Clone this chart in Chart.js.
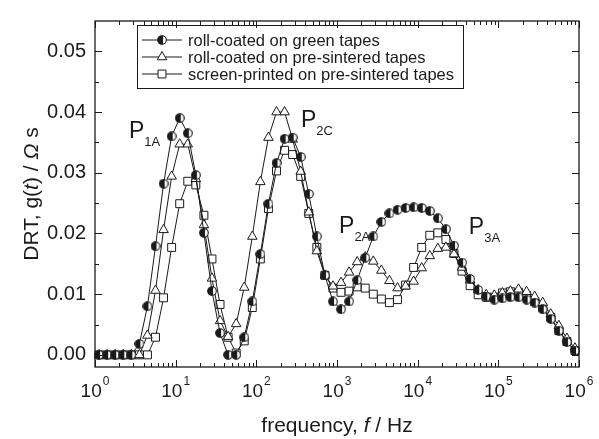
<!DOCTYPE html>
<html>
<head>
<meta charset="utf-8">
<script src="https://cdn.jsdelivr.net/npm/chart.js@4.4.0/dist/chart.umd.min.js"></script>
<style>
  body { margin: 0; background: #fff; }
  #wrap { width: 599px; height: 439px; }
</style>
</head>
<body>
<div id="wrap"><canvas id="drtCanvas" width="599" height="439"></canvas></div>
<script>
// log10 of the frequency of every DRT point (10 per decade)
const logFreq = [
  0.05, 0.15, 0.25, 0.35, 0.45, 0.55, 0.65, 0.75, 0.85, 0.95,
  1.05, 1.15, 1.25, 1.35, 1.45, 1.55, 1.65, 1.75, 1.85, 1.95,
  2.05, 2.15, 2.25, 2.35, 2.45, 2.55, 2.65, 2.75, 2.85, 2.95,
  3.05, 3.15, 3.25, 3.35, 3.45, 3.55, 3.65, 3.75, 3.85, 3.95,
  4.05, 4.15, 4.25, 4.35, 4.45, 4.55, 4.65, 4.75, 4.85, 4.95,
  5.05, 5.15, 5.25, 5.35, 5.45, 5.55, 5.65, 5.75, 5.85, 5.95
];

const greenTapes = [
  0, 0, 0, 0, 0, 0.0018, 0.0080, 0.0179, 0.0282, 0.0360,
  0.0390, 0.0365, 0.0296, 0.0201, 0.0105, 0.0036, 0.0000, 0.0000, 0.0029, 0.0088,
  0.0166, 0.0249, 0.0316, 0.0356, 0.0358, 0.0326, 0.0265, 0.0195, 0.0131, 0.0088,
  0.0075, 0.0088, 0.0123, 0.0160, 0.0195, 0.0219, 0.0233, 0.0239, 0.0242, 0.0243,
  0.0242, 0.0237, 0.0225, 0.0207, 0.0180, 0.0152, 0.0125, 0.0107, 0.0096, 0.0091,
  0.0093, 0.0095, 0.0095, 0.0091, 0.0086, 0.0075, 0.0059, 0.0040, 0.0021, 0.0007
];

const rollPreSintered = [
  0, 0, 0, 0, 0, 0, 0.0032, 0.0106, 0.0206, 0.0294,
  0.0347, 0.0347, 0.0290, 0.0214, 0.0126, 0.0056, 0.0030, 0.0051, 0.0111, 0.0195,
  0.0285, 0.0358, 0.0400, 0.0400, 0.0355, 0.0302, 0.0235, 0.0171, 0.0131, 0.0113,
  0.0119, 0.0136, 0.0153, 0.0161, 0.0154, 0.0139, 0.0122, 0.0110, 0.0113, 0.0121,
  0.0143, 0.0163, 0.0175, 0.0177, 0.0166, 0.0144, 0.0123, 0.0107, 0.0099, 0.0098,
  0.0102, 0.0105, 0.0108, 0.0104, 0.0096, 0.0086, 0.0067, 0.0048, 0.0027, 0.0011
];

const screenPreSintered = [
  0, 0, 0, 0, 0, 0, 0, 0.0029, 0.0094, 0.0177,
  0.0249, 0.0286, 0.0280, 0.0230, 0.0158, 0.0083, 0.0029, 0.0003, 0.0023, 0.0078,
  0.0158, 0.0241, 0.0303, 0.0337, 0.0330, 0.0294, 0.0233, 0.0177, 0.0131, 0.0110,
  0.0103, 0.0105, 0.0112, 0.0110, 0.0100, 0.0092, 0.0086, 0.0091, 0.0115, 0.0144,
  0.0177, 0.0197, 0.0201, 0.0190, 0.0167, 0.0138, 0.0114, 0.0099, 0.0095, 0.0095,
  0.0102, 0.0104, 0.0103, 0.0098, 0.0088, 0.0078, 0.0062, 0.0040, 0.0022, 0.0007
];

const seriesLabels = [
  "roll-coated on green tapes",
  "roll-coated on pre-sintered tapes",
  "screen-printed on pre-sintered tapes"
];

const xTicks = [1, 10, 100, 1000, 10000, 100000, 1000000];
const yTicks = [0, 0.01, 0.02, 0.03, 0.04, 0.05];

// peak labels: [main, subscript, frequency, value]
const peakLabels = [
  ["P", "1A", 2.64, 0.0357],
  ["P", "2C", 357, 0.0375],
  ["P", "2A", 1060, 0.0201],
  ["P", "3A", 43100, 0.0199]
];

const FONT = '"Liberation Sans", Arial, sans-serif';
const INK = "#1a1a1a";

// half-filled circle marker
function halfCircle() {
  const c = document.createElement("canvas");
  c.width = 10; c.height = 10;
  const g = c.getContext("2d");
  g.beginPath(); g.arc(5, 5, 4.3, 0, Math.PI * 2); g.fillStyle = "#fff"; g.fill();
  g.beginPath(); g.arc(5, 5, 4.3, Math.PI * 0.42, Math.PI * 1.58); g.closePath(); g.fillStyle = INK; g.fill();
  g.beginPath(); g.arc(5, 5, 4.3, 0, Math.PI * 2); g.lineWidth = 1.1; g.strokeStyle = INK; g.stroke();
  return c;
}

function points(vals) {
  return vals.map((v, i) => ({ x: Math.pow(10, logFreq[i]), y: v }));
}

function dataset(label, vals, style, radius) {
  return {
    label: label,
    data: points(vals),
    borderColor: INK,
    borderWidth: 1,
    backgroundColor: "#fff",
    pointStyle: style,
    pointRadius: radius,
    pointBorderWidth: 1,
    pointBorderColor: INK,
    pointBackgroundColor: "#fff",
    tension: 0,
    clip: false
  };
}

function drawRich(ctx, parts, x, y, size) {
  let w = 0;
  parts.forEach(p => { ctx.font = (p[1] ? "italic " : "") + size + "px " + FONT; w += ctx.measureText(p[0]).width; });
  let cx = x - w / 2;
  parts.forEach(p => {
    ctx.font = (p[1] ? "italic " : "") + size + "px " + FONT;
    ctx.fillText(p[0], cx, y);
    cx += ctx.measureText(p[0]).width;
  });
}

const framePlugin = {
  id: "frame",
  afterDraw(chart) {
    const ctx = chart.ctx;
    const a = chart.chartArea;
    const xs = chart.scales.x, ys = chart.scales.y;
    ctx.save();
    ctx.strokeStyle = INK;
    ctx.lineWidth = 1.3;
    ctx.strokeRect(a.left, a.top, a.right - a.left, a.bottom - a.top);
    ctx.lineWidth = 1;
    ctx.beginPath();
    // x ticks, major and minor, bottom and top, pointing in
    for (let d = 0; d <= 6; d++) {
      for (let m = 1; m <= 9; m++) {
        const f = m * Math.pow(10, d);
        if (f > 1e6) break;
        const px = Math.round(xs.getPixelForValue(f)) + 0.5;
        const len = m === 1 ? 7 : 4;
        ctx.moveTo(px, a.bottom); ctx.lineTo(px, a.bottom - len);
        ctx.moveTo(px, a.top); ctx.lineTo(px, a.top + len);
      }
    }
    // y ticks every 0.005
    for (let k = 0; k <= 10; k++) {
      const v = k * 0.005;
      const py = Math.round(ys.getPixelForValue(v)) + 0.5;
      const len = k % 2 === 0 ? 7 : 4;
      ctx.moveTo(a.left, py); ctx.lineTo(a.left + len, py);
      ctx.moveTo(a.right, py); ctx.lineTo(a.right - len, py);
    }
    ctx.stroke();

    ctx.fillStyle = INK;
    ctx.textBaseline = "alphabetic";

    // x tick labels 10^n
    xs.ticks.forEach(t => {
      const px = xs.getPixelForValue(t.value);
      const e = String(Math.round(Math.log10(t.value)));
      ctx.font = "19px " + FONT;
      const w1 = ctx.measureText("10").width;
      ctx.font = "12px " + FONT;
      const w2 = ctx.measureText(e).width;
      const x0 = px - (w1 + w2 + 1) / 2;
      ctx.font = "19px " + FONT;
      ctx.fillText("10", x0, 397);
      ctx.font = "12px " + FONT;
      ctx.fillText(e, x0 + w1 + 1, 385);
    });

    // axis titles
    drawRich(ctx, [["frequency, ", false], ["f", true], [" / Hz", false]], (a.left + a.right) / 2, 432, 21);
    ctx.save();
    ctx.translate(38, (a.top + a.bottom) / 2);
    ctx.rotate(-Math.PI / 2);
    drawRich(ctx, [["DRT, g(", false], ["t", true], [") / ", false], ["\u03a9", true], [" s", false]], 0, 0, 21);
    ctx.restore();

    // peak labels
    peakLabels.forEach(p => {
      const px = xs.getPixelForValue(p[2]);
      const py = ys.getPixelForValue(p[3]);
      ctx.font = "23px " + FONT;
      ctx.fillText(p[0], px, py);
      const w = ctx.measureText(p[0]).width;
      ctx.font = "13px " + FONT;
      ctx.fillText(p[1], px + w, py + 8);
    });

    // legend
    const box = { l: 137, t: 25, r: 463, b: 88 };
    ctx.lineWidth = 1;
    ctx.strokeStyle = INK;
    ctx.strokeRect(box.l + 0.5, box.t + 0.5, box.r - box.l, box.b - box.t);
    ctx.textBaseline = "middle";
    chart.data.datasets.forEach((ds, i) => {
      const y = 40 + i * 17;
      ctx.beginPath();
      ctx.moveTo(142, y); ctx.lineTo(182, y);
      ctx.stroke();
      ctx.fillStyle = "#fff";
      Chart.helpers.drawPoint(ctx, {
        pointStyle: ds.pointStyle, radius: ds.pointRadius, borderWidth: 1, rotation: 0
      }, 162, y);
      ctx.fillStyle = INK;
      ctx.font = "16.5px " + FONT;
      ctx.fillText(ds.label, 188, y + 1);
    });
    ctx.restore();
  }
};

const drtCanvas = document.getElementById("drtCanvas");

const drtChart = new Chart(drtCanvas, {
  type: "line",
  data: {
    datasets: [
      dataset(seriesLabels[0], greenTapes, halfCircle(), 4.5),
      dataset(seriesLabels[1], rollPreSintered, "triangle", 5.5),
      dataset(seriesLabels[2], screenPreSintered, "rect", 5.6)
    ]
  },
  options: {
    responsive: false,
    animation: false,
    layout: { padding: { top: 15, right: 20, left: 0, bottom: 0 } },
    plugins: {
      legend: { display: false },
      tooltip: { enabled: false }
    },
    scales: {
      x: {
        type: "logarithmic",
        min: 1,
        max: 1000000,
        grid: { display: false, drawTicks: false },
        border: { display: false },
        afterBuildTicks: s => { s.ticks = xTicks.map(v => ({ value: v })); },
        afterFit: s => { s.height = 72; },
        ticks: { display: false }
      },
      y: {
        min: -0.002,
        max: 0.055,
        grid: { display: false, drawTicks: false },
        border: { display: false },
        afterBuildTicks: s => { s.ticks = yTicks.map(v => ({ value: v })); },
        afterFit: s => { s.width = 95; },
        ticks: {
          color: INK,
          padding: 9,
          font: { family: FONT, size: 20 },
          callback: v => v.toFixed(2)
        }
      }
    }
  },
  plugins: [framePlugin]
});
</script>
</body>
</html>
